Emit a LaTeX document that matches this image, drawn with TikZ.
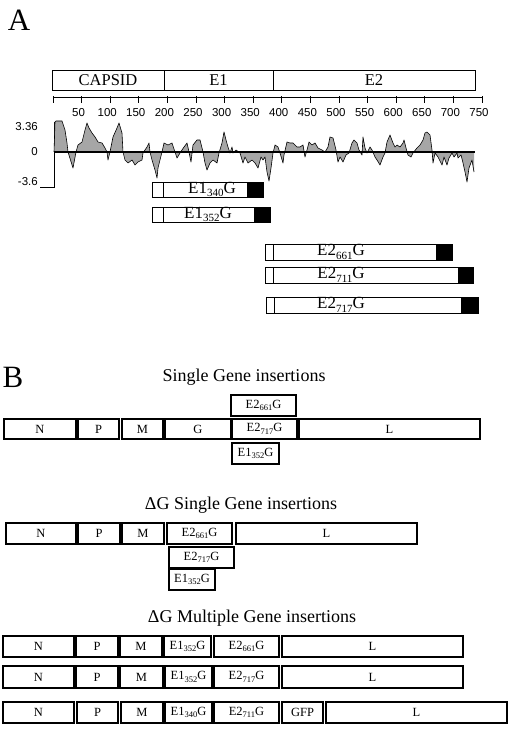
\documentclass[tikz,border=0pt]{standalone}
\usepackage{fontspec}
\setmainfont{Liberation Serif}
\setsansfont{Liberation Sans}
\newcommand\subA[1]{\raisebox{-3.5pt}{\fontsize{11}{11}\selectfont #1}}
\newcommand\subB[1]{\raisebox{-2.5pt}{\fontsize{8.5}{8.5}\selectfont #1}}
\newcommand\gbox[7]{\node[#1, minimum width={#5pt-#3pt}, minimum height={#6pt-#4pt}] (#2) at (#3,#4) {#7};}
\begin{document}
\begin{tikzpicture}[x=1pt,y=-1pt,
  abar/.style={draw, line width=0.7pt, inner sep=0pt, outer sep=0pt, anchor=north west, font=\fontsize{16.5}{16.5}\selectfont},
  atext/.style={font=\fontsize{17}{17}\selectfont, inner sep=0pt},
  bbox/.style={draw, line width=1.2pt, inner sep=0pt, outer sep=0pt, anchor=north west, font=\fontsize{12.5}{12.5}\selectfont},
  ttl/.style={font=\fontsize{18}{18}\selectfont, inner sep=0pt},
  panel/.style={font=\fontsize{31}{31}\selectfont, inner sep=0pt},
  num/.style={font=\sffamily\fontsize{11.5}{11.5}\selectfont, inner sep=0pt}]
\useasboundingbox[fill=white] (0,0) rectangle (512,730);

% ---------------- Panel A ----------------
\node[panel] (pA) at (19,20) {A};
\gbox{abar}{capsid}{52}{70}{164}{90}{CAPSID}
\gbox{abar}{e1}{164}{70}{273}{90}{E1}
\gbox{abar}{e2}{273}{70}{475}{90}{E2}

% ruler
\draw[line width=0.7pt] (53,97.5) -- (482,97.5);
\foreach \i in {0,...,15} {\draw[line width=0.7pt] (53+28.6*\i,96.5) -- (53+28.6*\i,103);}
\foreach \i/\v in {1/50,2/100,3/150,4/200,5/250,6/300,7/350,8/400,9/450,10/500,11/550,12/600,13/650,14/700,15/750}
  {\node[num] at (50+28.6*\i,113) {\v};}

% hydropathy plot
\node[num, anchor=east] (t1) at (38,127) {3.36};
\node[num, anchor=east] (t0) at (38,152) {0};
\node[num, anchor=east] (t2) at (38,182) {-3.6};
\draw[line width=0.8pt] (54,122) -- (54,187) -- (40,187);
\def\hydro{(54,152) -- (55,122) -- (56,121) -- (62,121) -- (63,124) -- (65,130) -- (67,143) -- (68,152) -- (73,168) -- (76,152) -- (78,145) -- (82,142) -- (85,130) -- (87,123) -- (89,128) -- (92,133) -- (95,137) -- (98,142) -- (102,143) -- (105,148) -- (107,152) -- (108,160) -- (110,152) -- (113,137) -- (117,128) -- (119,123) -- (122,133) -- (123,152) -- (125,160) -- (128,163) -- (132,160) -- (135,165) -- (138,162) -- (142,160) -- (143,153) -- (147,147) -- (149,143) -- (150,152) -- (152,160) -- (155,170) -- (157,178) -- (158,168) -- (160,160) -- (162,152) -- (164,143) -- (168,145) -- (172,143) -- (175,152) -- (177,158) -- (180,153) -- (184,147) -- (187,143) -- (189,152) -- (191,162) -- (193,145) -- (197,140) -- (200,140) -- (203,152) -- (205,163) -- (207,170) -- (210,163) -- (213,160) -- (217,163) -- (219,153) -- (222,143) -- (224,132) -- (226,140) -- (228,147) -- (230,153) -- (232,147) -- (233,153) -- (236,150) -- (240,153) -- (243,163) -- (245,157) -- (248,163) -- (252,160) -- (255,163) -- (258,168) -- (261,157) -- (263,160) -- (265,157) -- (267,172) -- (269,181) -- (271,168) -- (273,153) -- (275,145) -- (278,147) -- (280,153) -- (283,163) -- (284,155) -- (287,142) -- (290,143) -- (293,143) -- (297,147) -- (300,147) -- (303,145) -- (305,157) -- (307,150) -- (309,142) -- (312,145) -- (315,143) -- (318,148) -- (322,150) -- (325,152) -- (328,147) -- (330,137) -- (333,138) -- (336,150) -- (338,162) -- (340,157) -- (343,162) -- (346,155) -- (349,153) -- (352,143) -- (354,140) -- (357,143) -- (359,150) -- (362,155) -- (363,137) -- (365,148) -- (367,153) -- (370,147) -- (372,150) -- (375,157) -- (377,160) -- (380,165) -- (383,157) -- (385,153) -- (387,142) -- (390,135) -- (393,143) -- (395,147) -- (397,145) -- (400,147) -- (403,143) -- (404,140) -- (406,148) -- (408,155) -- (411,157) -- (413,153) -- (417,148) -- (420,145) -- (423,140) -- (425,133) -- (427,132) -- (430,135) -- (432,150) -- (433,163) -- (435,153) -- (438,157) -- (442,165) -- (444,157) -- (447,165) -- (449,158) -- (452,153) -- (454,157) -- (457,153) -- (458,158) -- (461,155) -- (463,163) -- (465,172) -- (467,182) -- (469,168) -- (472,160) -- (474,172)}
\fill[gray!70] \hydro -- (474,152) -- cycle;
\draw[line width=0.6pt, line join=round] \hydro;
\draw[line width=1.6pt] (54,152) -- (475,152);

% construct bars
\gbox{abar}{ea}{152}{182}{263}{197}{}
\draw[line width=0.7pt] (163,182) -- (163,197);
\fill (247,182) rectangle (263,197);
\node[atext] (eat) at (212,189.5) {E1\subA{340}G};

\gbox{abar}{eb}{152}{207}{270}{222}{}
\draw[line width=0.7pt] (163,207) -- (163,222);
\fill (254,207) rectangle (270,222);
\node[atext] (ebt) at (208,214.5) {E1\subA{352}G};

\gbox{abar}{ec}{265}{244}{452}{260}{}
\draw[line width=0.7pt] (273,244) -- (273,260);
\fill (436,244) rectangle (452,260);
\node[atext] (ect) at (341,252) {E2\subA{661}G};

\gbox{abar}{ed}{265}{267}{473}{283}{}
\draw[line width=0.7pt] (273,267) -- (273,283);
\fill (458,267) rectangle (473,283);
\node[atext] (edt) at (341,275) {E2\subA{711}G};

\gbox{abar}{ee}{266}{297}{478}{313}{}
\draw[line width=0.7pt] (274,297) -- (274,313);
\fill (461,297) rectangle (478,313);
\node[atext] (eet) at (341,305) {E2\subA{717}G};

% ---------------- Panel B ----------------
\node[panel] (pB) at (13,377) {B};
\node[ttl] (s1) at (244,377) {Single Gene insertions};
\gbox{bbox}{r1n}{4}{419}{76}{439}{N}
\gbox{bbox}{r1p}{78}{419}{119}{439}{P}
\gbox{bbox}{r1m}{122}{419}{163}{439}{M}
\gbox{bbox}{r1g}{165}{419}{231}{439}{G}
\gbox{bbox}{r1x}{232}{419}{297}{439}{E2\subB{717}G}
\gbox{bbox}{r1l}{299}{419}{480}{439}{L}
\gbox{bbox}{r1a}{231}{395}{296}{416}{E2\subB{661}G}
\gbox{bbox}{r1b}{232}{443}{279}{464}{E1\subB{352}G}

\node[ttl] (s2) at (241,505) {ΔG Single Gene insertions};
\gbox{bbox}{r2n}{6}{523}{76}{544}{N}
\gbox{bbox}{r2p}{78}{523}{120}{544}{P}
\gbox{bbox}{r2m}{122}{523}{164}{544}{M}
\gbox{bbox}{r2x}{167}{523}{232}{544}{E2\subB{661}G}
\gbox{bbox}{r2l}{236}{523}{417}{544}{L}
\gbox{bbox}{r2a}{169}{547}{234}{568}{E2\subB{717}G}
\gbox{bbox}{r2b}{169}{569}{215}{590}{E1\subB{352}G}

\node[ttl] (s3) at (252,618) {ΔG Multiple Gene insertions};
\gbox{bbox}{r3n}{3}{636}{74}{657}{N}
\gbox{bbox}{r3p}{76}{636}{118}{657}{P}
\gbox{bbox}{r3m}{120}{636}{162}{657}{M}
\gbox{bbox}{r3a}{164}{636}{211}{657}{E1\subB{352}G}
\gbox{bbox}{r3b}{214}{636}{279}{657}{E2\subB{661}G}
\gbox{bbox}{r3l}{282}{636}{463}{657}{L}

\gbox{bbox}{r4n}{3}{666}{74}{688}{N}
\gbox{bbox}{r4p}{76}{666}{118}{688}{P}
\gbox{bbox}{r4m}{120}{666}{163}{688}{M}
\gbox{bbox}{r4a}{165}{666}{212}{688}{E1\subB{352}G}
\gbox{bbox}{r4b}{214}{666}{279}{688}{E2\subB{717}G}
\gbox{bbox}{r4l}{282}{666}{463}{688}{L}

\gbox{bbox}{r5n}{3}{702}{74}{723}{N}
\gbox{bbox}{r5p}{77}{702}{118}{723}{P}
\gbox{bbox}{r5m}{121}{702}{163}{723}{M}
\gbox{bbox}{r5a}{165}{702}{212}{723}{E1\subB{340}G}
\gbox{bbox}{r5b}{214}{702}{279}{723}{E2\subB{711}G}
\gbox{bbox}{r5g}{282}{702}{323}{723}{GFP}
\gbox{bbox}{r5l}{326}{702}{507}{723}{L}
\end{tikzpicture}
\end{document}
